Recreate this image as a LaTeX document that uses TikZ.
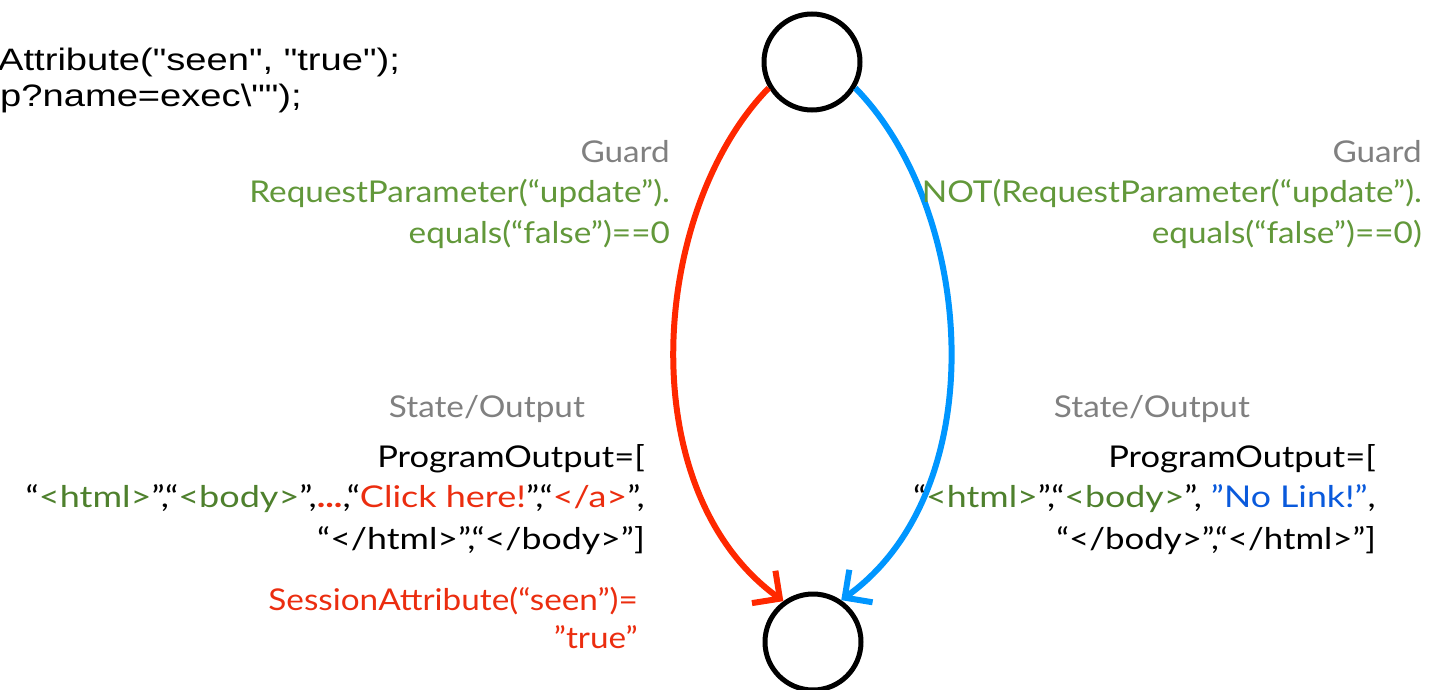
\documentclass[tikz,border=0pt]{standalone}
\usepackage{fontspec}
\usepackage{graphicx}
\setmainfont{Lato}
\newfontfamily\helv{Liberation Sans}
\usetikzlibrary{arrows.meta}
\definecolor{gry}{RGB}{128,128,128}
\definecolor{grn}{RGB}{98,152,58}
\definecolor{dgrn}{RGB}{78,128,45}
\definecolor{rd}{RGB}{235,45,15}
\definecolor{redarrow}{RGB}{255,40,0}
\definecolor{bluearrow}{RGB}{0,150,255}
\definecolor{nblue}{RGB}{10,90,220}
\newcommand{\sx}[2][1.11]{\scalebox{#1}[1]{#2}}
\newcommand{\hx}[1]{\scalebox{1.23}[1]{#1}}
\tikzset{
  state/.style={circle,draw=black,line width=5pt,minimum size=96pt,inner sep=0pt},
  lbl/.style={anchor=base east,inner sep=0pt,font=\fontsize{30}{36}\selectfont},
  code/.style={anchor=base west,inner sep=0pt,font=\helv\fontsize{31}{36}\selectfont},
  trans/.style={line width=6pt,-{Straight Barb[length=20pt,width=40pt]}}
}
\begin{document}
\begin{tikzpicture}[x=1pt,y=-1pt]
\useasboundingbox (0,0) rectangle (1441,690);
\node[state] (s0) at (812,62) {};
\node[state] (s1) at (813,642) {};
\draw[trans,draw=redarrow] (s0.211) .. controls (650,210) and (630,490) .. (s1.126);
\draw[trans,draw=bluearrow] (s0.329) .. controls (975,210) and (995,490) .. (s1.56);
% code text
\node[code] (c1) at (-2,71) {\hx{Attribute("seen", "true");}};
\node[code] (c2) at (0,107) {\hx{p?name=exec\textbackslash"");}};
% left guard
\node[lbl,text=gry] (g1) at (670,163) {\sx{Guard}};
\node[lbl,text=grn] (g2) at (670,203) {\sx{RequestParameter(“update”).}};
\node[lbl,text=grn] (g3) at (670,243) {\sx{equals(“false”)==0}};
% right guard
\node[lbl,text=gry] (g4) at (1422,163) {\sx{Guard}};
\node[lbl,text=grn] (g5) at (1422,203) {\sx{NOT(RequestParameter(“update”).}};
\node[lbl,text=grn] (g6) at (1422,243) {\sx{equals(“false”)==0)}};
% left output
\node[lbl,text=gry] (o1) at (585,417) {\sx{State/Output}};
\node[lbl] (o2) at (645,467) {\sx[1.15]{ProgramOutput=[}};
\node[lbl] (o3) at (645,507) {\sx[1.2]{“\textcolor{dgrn}{<html>}”,“\textcolor{dgrn}{<body>}”,\textcolor{rd}{\textbf{...}},“\textcolor{rd}{Click here!}”,“\textcolor{rd}{</a>}”,}};
\node[lbl] (o4) at (645,549) {\sx[1.19]{“</html>”,“</body>”]}};
\node[lbl,text=rd] (o5) at (638,610) {\sx{SessionAttribute(“seen”)=}};
\node[lbl,text=rd] (o6) at (638,648) {\sx{”true”}};
% right output
\node[lbl,text=gry] (r1) at (1250,417) {\sx{State/Output}};
\node[lbl] (r2) at (1376,467) {\sx[1.15]{ProgramOutput=[}};
\node[lbl] (r3) at (1376,507) {\sx[1.19]{“\textcolor{dgrn}{<html>}”,“\textcolor{dgrn}{<body>}”, \textcolor{nblue}{”No Link!”},}};
\node[lbl] (r4) at (1376,549) {\sx[1.16]{“</body>”,“</html>”]}};
\end{tikzpicture}
\end{document}
